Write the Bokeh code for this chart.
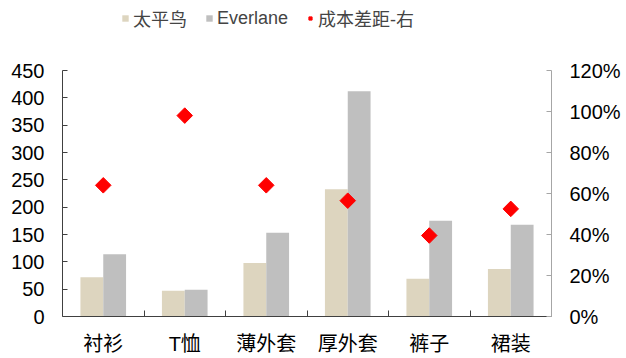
import numpy as np
from bokeh.plotting import figure
from bokeh.layouts import column
from bokeh.models import (Range1d, LinearAxis, FixedTicker, NumeralTickFormatter,
                          ColumnDataSource, Legend, LegendItem)
from bokeh.embed import file_html
from bokeh.resources import INLINE

categories = ["衬衫", "T恤", "薄外套", "厚外套", "裤子", "裙装"]
taipingniao = [72, 47, 98, 233, 69, 87]
everlane = [114, 49, 153, 412, 175, 168]
cost_gap = [0.64, 0.98, 0.64, 0.565, 0.395, 0.525]
left_ticks = [0, 50, 100, 150, 200, 250, 300, 350, 400, 450]
right_ticks = [0, 0.2, 0.4, 0.6, 0.8, 1.0, 1.2]
series_names = ["太平鸟", "Everlane", "成本差距-右"]

FONT = "Liberation Sans, Noto Sans CJK SC"
DARK = "#404040"
GRAY = "#a6a6a6"
C1, C2, C3 = "#ddd5bf", "#bfbfbf", "#ff0000"

n = len(categories)
centers = [i + 0.5 for i in range(n)]
src = ColumnDataSource(dict(
    c=centers,
    x1=[c - 0.14 for c in centers],
    x2=[c + 0.14 for c in centers],
    a=taipingniao, b=everlane, g=cost_gap))

p = figure(width=626, height=318, output_backend="svg", toolbar_location=None,
           x_range=Range1d(0, n), y_range=Range1d(0, 450),
           min_border_left=62, min_border_right=75, min_border_top=30, min_border_bottom=42)
p.extra_y_ranges = {"pct": Range1d(0, 1.2)}
p.outline_line_color = None
p.grid.visible = False

p.vbar(x="x1", top="a", width=0.28, source=src, fill_color=C1, line_color=None)
p.vbar(x="x2", top="b", width=0.28, source=src, fill_color=C2, line_color=None)
p.scatter(x="c", y="g", source=src, marker="square", angle=np.pi / 4, size=11,
          fill_color=C3, line_color=C3, y_range_name="pct")

# left axis
ya = p.yaxis[0]
ya.ticker = FixedTicker(ticks=left_ticks)
ya.major_tick_in = 5
ya.major_tick_out = 0
ya.minor_tick_line_color = None
ya.axis_line_color = DARK
ya.major_tick_line_color = DARK
ya.major_label_text_font = FONT
ya.major_label_text_font_size = "20px"
ya.major_label_text_color = "black"
ya.major_label_standoff = 18

# bottom axis
xa = p.xaxis[0]
xa.ticker = FixedTicker(ticks=centers, minor_ticks=list(range(1, n)))
xa.major_label_overrides = {c: lab for c, lab in zip(centers, categories)}
xa.major_tick_line_color = None
xa.minor_tick_in = 6
xa.minor_tick_out = 0
xa.minor_tick_line_color = DARK
xa.axis_line_color = DARK
xa.major_label_text_font = FONT
xa.major_label_text_font_size = "20px"
xa.major_label_text_color = "black"
xa.major_label_standoff = 10

# right axis
ra = LinearAxis(y_range_name="pct", ticker=FixedTicker(ticks=right_ticks),
                formatter=NumeralTickFormatter(format="0%"))
ra.major_tick_in = 5
ra.major_tick_out = 0
ra.minor_tick_line_color = None
ra.axis_line_color = GRAY
ra.major_tick_line_color = GRAY
ra.major_label_text_font = FONT
ra.major_label_text_font_size = "20px"
ra.major_label_text_color = "black"
ra.major_label_standoff = 18
p.add_layout(ra, "right")

# legend strip on top (dummy renderers placed outside the visible range)
lg = figure(width=626, height=40, output_backend="svg", toolbar_location=None,
            x_range=Range1d(0, 1), y_range=Range1d(0, 1),
            min_border=0, min_border_left=0, min_border_right=0,
            min_border_top=0, min_border_bottom=0)
lg.axis.visible = False
lg.grid.visible = False
lg.outline_line_color = None
dummy = ColumnDataSource(dict(x=[-10], y=[-10]))
l1 = lg.vbar(x="x", top="y", width=0.1, source=dummy, fill_color=C1, line_color=None)
l2 = lg.vbar(x="x", top="y", width=0.1, source=dummy, fill_color=C2, line_color=None)
l3 = lg.scatter(x="x", y="y", source=dummy, marker="square", angle=np.pi / 4, size=7,
                fill_color=C3, line_color=C3)
legend = Legend(items=[LegendItem(label=series_names[0], renderers=[l1]),
                       LegendItem(label=series_names[1], renderers=[l2]),
                       LegendItem(label=series_names[2], renderers=[l3])],
                orientation="horizontal", location=(59, 9),
                label_text_font=FONT, label_text_font_size="18px",
                glyph_width=8, glyph_height=8, label_standoff=4, spacing=18,
                padding=0, margin=0, border_line_color=None,
                background_fill_alpha=0)
lg.add_layout(legend, "center")

layout = column(lg, p, spacing=0)
open("out.html", "w").write(file_html(layout, INLINE))
